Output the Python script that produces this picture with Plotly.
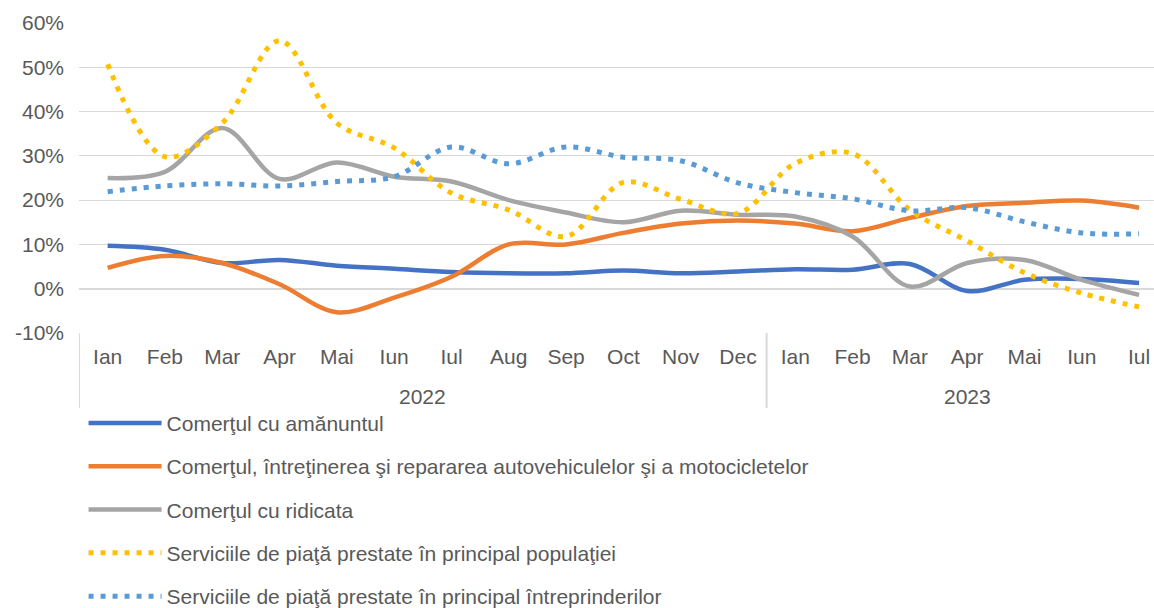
import plotly.graph_objects as go

# Categories
years = ["2022"] * 12 + ["2023"] * 7
months = ["Ian", "Feb", "Mar", "Apr", "Mai", "Iun", "Iul", "Aug", "Sep", "Oct", "Nov", "Dec",
          "Ian", "Feb", "Mar", "Apr", "Mai", "Iun", "Iul"]
year_labels = ["2022", "2023"]

# y tick labels
y_ticks = [-10, 0, 10, 20, 30, 40, 50, 60]
y_ticktext = ["-10%", "0%", "10%", "20%", "30%", "40%", "50%", "60%"]

# Series values (%)
amanunt = [9.7, 8.8, 5.8, 6.5, 5.2, 4.5, 3.8, 3.5, 3.5, 4.1, 3.5, 3.9,
           4.4, 4.3, 5.6, -0.5, 2.0, 2.2, 1.3]
auto = [4.7, 7.4, 5.8, 1.0, -5.3, -2.0, 2.7, 10.0, 10.0, 12.6, 14.7, 15.4,
        14.7, 13.0, 16.0, 18.7, 19.4, 19.9, 18.3]
ridicata = [25.0, 26.4, 36.3, 24.8, 28.5, 25.3, 24.2, 20.0, 17.2, 15.0, 17.6, 16.7,
            16.3, 11.8, 0.5, 5.8, 6.5, 2.0, -1.4]
populatie = [50.7, 29.8, 37.4, 56.0, 37.4, 31.8, 21.6, 17.8, 11.8, 24.0, 20.2, 17.0,
             28.3, 30.5, 17.8, 10.8, 3.6, -1.0, -4.1]
intreprinderi = [21.9, 23.2, 23.7, 23.2, 24.2, 25.3, 32.0, 28.2, 32.0, 29.7, 28.9, 23.9,
                 21.7, 20.3, 17.6, 18.3, 15.1, 12.6, 12.4]

names = [
    "Comerţul cu amănuntul",
    "Comerţul, întreţinerea şi repararea autovehiculelor şi a motocicletelor",
    "Comerţul cu ridicata",
    "Serviciile de piaţă prestate în principal populaţiei",
    "Serviciile de piaţă prestate în principal întreprinderilor",
]

TEXT = "#595959"
GRID = "#D9D9D9"
FONT = "Liberation Sans, Arial, sans-serif"

# unique category keys, months shown as tick text
x_keys = [f"{m} {y}" for m, y in zip(months, years)]

fig = go.Figure()
series = [
    (amanunt, "#4472C4", "solid"),
    (auto, "#ED7D31", "solid"),
    (ridicata, "#A5A5A5", "solid"),
    (populatie, "#FFC000", "5px,7px"),
    (intreprinderi, "#5B9BD5", "5px,7px"),
]
for i, (vals, color, dash) in enumerate(series):
    fig.add_trace(go.Scatter(
        x=x_keys,
        y=vals,
        mode="lines",
        name=names[i],
        legendgroup=f"g{i}",
        line=dict(color=color, width=4.5 if dash == "solid" else 5, dash=dash,
                  shape="spline", smoothing=1.0),
    ))

# year group labels and dividers below the month labels
PLOT_H = 310
div_bottom = -(408 - 333) / PLOT_H
for yr in year_labels:
    idx = [k for k, y in enumerate(years) if y == yr]
    fig.add_annotation(
        x=(idx[0] + idx[-1]) / 2, xref="x",
        y=-(396 - 333) / PLOT_H, yref="paper",
        text=yr, showarrow=False,
        font=dict(size=21, color=TEXT, family=FONT),
        yanchor="middle",
    )
    fig.add_shape(
        type="line", xref="x", yref="paper",
        x0=idx[0] - 0.5, x1=idx[0] - 0.5, y0=0, y1=div_bottom,
        line=dict(color=GRID, width=2),
    )

fig.update_layout(
    width=1154,
    height=608,
    margin=dict(l=79, r=0, t=23, b=275, autoexpand=False),
    plot_bgcolor="white",
    paper_bgcolor="white",
    font=dict(family=FONT, size=21, color=TEXT),
    showlegend=True,
    legend=dict(
        orientation="v",
        xref="container", yref="container",
        x=0.0724, y=0.3375,
        xanchor="left", yanchor="top",
        traceorder="grouped",
        tracegroupgap=13,
        font=dict(size=21, color=TEXT),
        itemwidth=73,
        bgcolor="rgba(0,0,0,0)",
    ),
    xaxis=dict(
        type="category",
        range=[-0.5, 18.26],
        showgrid=False,
        showline=False,
        ticks="",
        tickangle=0,
        tickmode="array",
        tickvals=x_keys,
        ticktext=months,
        ticklabelstandoff=9,
        tickfont=dict(size=21, color=TEXT),
    ),
    yaxis=dict(
        range=[-10, 60],
        tickmode="array",
        tickvals=y_ticks,
        ticktext=y_ticktext,
        showgrid=True,
        gridcolor=GRID,
        gridwidth=1,
        zeroline=True,
        zerolinecolor=GRID,
        zerolinewidth=2,
        showline=False,
        ticklabelstandoff=14,
        tickfont=dict(size=21, color=TEXT),
    ),
)

# drop the default page margin so the figure fills the window exactly
fig.write_html(
    "out.html",
    config={"displayModeBar": False},
    post_script="document.body.style.margin='0';",
)
